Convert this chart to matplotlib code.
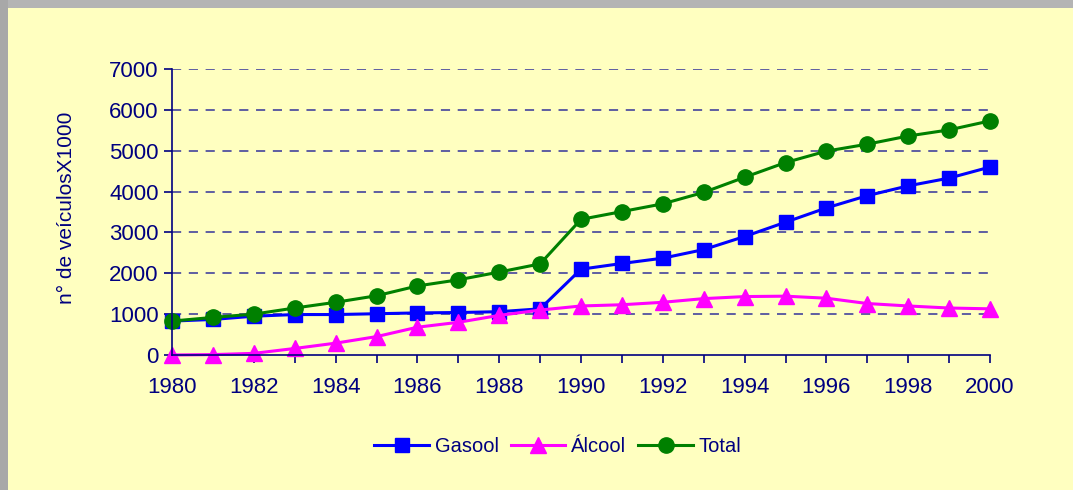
import matplotlib
matplotlib.use("Agg")
import matplotlib.pyplot as plt
from matplotlib.patches import Rectangle

years = list(range(1980, 2001))
gasool = [830, 870, 950, 990, 990, 1010, 1030, 1040, 1060, 1130, 2100, 2240, 2370,
          2580, 2900, 3250, 3600, 3900, 4140, 4330, 4600]
alcool = [0, 10, 40, 160, 290, 450, 680, 800, 970, 1100, 1200, 1230, 1290,
          1380, 1430, 1440, 1390, 1260, 1200, 1150, 1130]
total = [830, 920, 1000, 1150, 1290, 1450, 1690, 1840, 2030, 2230, 3320, 3510, 3700,
         3980, 4350, 4710, 4990, 5160, 5360, 5510, 5730]
yticks = [0, 1000, 2000, 3000, 4000, 5000, 6000, 7000]

navy = "#000080"
bg = "#FFFFC0"
plt.rcParams["font.family"] = ["Liberation Sans", "DejaVu Sans"]

fig = plt.figure(figsize=(10.73, 4.90), dpi=100, facecolor=bg)
# grey frame strips on top and left
fig.patches.append(Rectangle((0, 1 - 8 / 490), 1, 8 / 490, transform=fig.transFigure,
                             facecolor="#B4B4B4", edgecolor="none"))
fig.patches.append(Rectangle((0, 0), 8 / 1073, 1, transform=fig.transFigure,
                             facecolor="#A8A8A8", edgecolor="none"))

ax = fig.add_axes([172 / 1073, 1 - 355 / 490, (990 - 172) / 1073, (355 - 69) / 490])
ax.set_facecolor(bg)

ax.plot(years, gasool, color="#0000FF", lw=2.2, marker="s", ms=10.5, label="Gasool", clip_on=False)
ax.plot(years, alcool, color="#FF00FF", lw=2.2, marker="^", ms=11, label="Álcool", clip_on=False)
ax.plot(years, total, color="#008000", lw=2.2, marker="o", ms=11, label="Total", clip_on=False)

ax.set_xlim(1980, 2000)
ax.set_ylim(0, 7000)
ax.set_yticks(yticks)
ax.set_xticks(years)
ax.set_xticklabels([str(y) if y % 2 == 0 else "" for y in years])
for y in yticks[1:]:
    ax.axhline(y, color="#333399", lw=1.1, ls=(0, (6, 5)), zorder=0)

for s in ["top", "right"]:
    ax.spines[s].set_visible(False)
for s in ["left", "bottom"]:
    ax.spines[s].set_color(navy)
    ax.spines[s].set_linewidth(1.2)
ax.tick_params(colors=navy, labelcolor=navy, labelsize=16, length=6, width=1.2)
ax.tick_params(axis="x", pad=10)
ax.set_ylabel("n° de veículosX1000", color=navy, fontsize=15)
ax.yaxis.set_label_coords(-0.117, 0.516)

ax.legend(loc="center", bbox_to_anchor=(558 / 1073, 1 - 447 / 490), bbox_transform=fig.transFigure,
          ncol=3, frameon=False, fontsize=14.5, labelcolor=navy, handlelength=2.7,
          columnspacing=0.6, handletextpad=0.3)

fig.savefig("out.png", dpi=100, facecolor=bg)
